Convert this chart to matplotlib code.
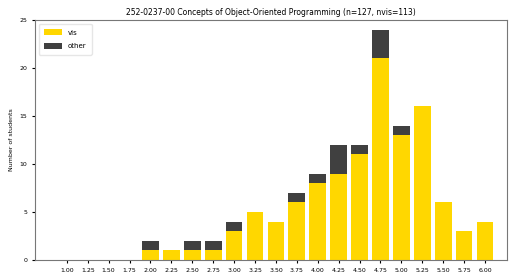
import matplotlib
matplotlib.use("Agg")
import matplotlib.pyplot as plt
import numpy as np

# grades 1.00 .. 6.00 in quarter steps
grades = [1.00, 1.25, 1.50, 1.75, 2.00, 2.25, 2.50, 2.75, 3.00, 3.25, 3.50,
          3.75, 4.00, 4.25, 4.50, 4.75, 5.00, 5.25, 5.50, 5.75, 6.00]
vis = [0, 0, 0, 0, 1, 1, 1, 1, 3, 5, 4, 6, 8, 9, 11, 21, 13, 16, 6, 3, 4]
other = [0, 0, 0, 0, 1, 0, 1, 1, 1, 0, 0, 1, 1, 3, 1, 3, 1, 0, 0, 0, 0]
tick_labels = ["{:.2f}".format(g) for g in grades]

fig = plt.figure(figsize=(5.23, 2.75), dpi=100)
ax = fig.add_axes([0.067, 0.055, 0.902, 0.872])

ax.bar(grades, vis, width=0.2, color="#FFD700", label="vis")
ax.bar(grades, other, width=0.2, bottom=vis, color="#404040", label="other")

ax.set_xticks(grades)
ax.set_xticklabels(tick_labels, fontsize=4.5)
ax.set_xlim(0.62, 6.26)
ax.set_ylim(0, 25)
ax.set_yticks(np.arange(0, 26, 5))
ax.tick_params(axis="y", labelsize=4.5, length=2)
ax.tick_params(axis="x", length=2)
ax.set_ylabel("Number of students", fontsize=4.5)
ax.set_title("252-0237-00 Concepts of Object-Oriented Programming (n=127, nvis=113)",
             fontsize=5.5, pad=4)
ax.legend(loc="upper left", fontsize=5, frameon=True, edgecolor="#e0e0e0",
          handlelength=2.6, handleheight=1.0, labelspacing=1.0, borderpad=0.8)

for s in ax.spines.values():
    s.set_color("#777777")
    s.set_linewidth(0.8)

fig.savefig("out.png", dpi=100)
